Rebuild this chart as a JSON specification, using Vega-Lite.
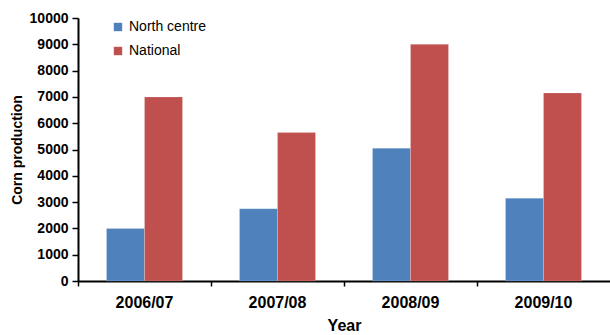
{
  "$schema": "https://vega.github.io/schema/vega-lite/v6.json",
  "autosize": "none",
  "width": 532,
  "height": 263,
  "padding": {"left": 78, "top": 18, "right": 0, "bottom": 54},
  "background": "white",
  "config": {
    "view": {"stroke": null},
    "font": "Liberation Sans"
  },
  "data": {
    "values": [
      {"Year": "2006/07", "Series": "North centre", "Value": 2000},
      {"Year": "2006/07", "Series": "National", "Value": 7000},
      {"Year": "2007/08", "Series": "North centre", "Value": 2750},
      {"Year": "2007/08", "Series": "National", "Value": 5650},
      {"Year": "2008/09", "Series": "North centre", "Value": 5050},
      {"Year": "2008/09", "Series": "National", "Value": 9000},
      {"Year": "2009/10", "Series": "North centre", "Value": 3150},
      {"Year": "2009/10", "Series": "National", "Value": 7150}
    ]
  },
  "mark": {"type": "bar", "stroke": "white", "strokeOpacity": 0.4, "strokeWidth": 0.5},
  "encoding": {
    "x": {
      "field": "Year", "type": "nominal", "sort": null,
      "scale": {"paddingInner": 0, "paddingOuter": 0},
      "axis": {
        "title": "Year", "titleFontSize": 16, "titleFontWeight": "bold", "titleColor": "black",
        "titlePadding": 7,
        "labelAngle": 0, "labelFontSize": 16, "labelFontWeight": "bold", "labelColor": "black",
        "labelPadding": 8,
        "bandPosition": 0,
        "domainColor": "black", "domainWidth": 2,
        "tickColor": "black", "tickWidth": 1.5, "tickSize": 5
      }
    },
    "xOffset": {
      "field": "Series", "type": "nominal",
      "sort": ["North centre", "National"],
      "scale": {"paddingInner": 0, "paddingOuter": 0.75}
    },
    "y": {
      "field": "Value", "type": "quantitative",
      "scale": {"domain": [0, 10000], "nice": false},
      "axis": {
        "title": "Corn production", "titleFontSize": 14, "titleFontWeight": "bold", "titleColor": "black",
        "titlePadding": 5,
        "values": [0, 1000, 2000, 3000, 4000, 5000, 6000, 7000, 8000, 9000, 10000],
        "format": "d",
        "grid": false,
        "labelFontSize": 14, "labelFontWeight": "bold", "labelColor": "black",
        "labelPadding": 4,
        "domainColor": "black", "domainWidth": 2,
        "tickColor": "black", "tickWidth": 1.5, "tickSize": 6
      }
    },
    "color": {
      "field": "Series", "type": "nominal",
      "sort": ["North centre", "National"],
      "scale": {"domain": ["North centre", "National"], "range": ["#4F81BD", "#C0504D"]},
      "legend": {
        "title": null, "orient": "none", "legendX": 33, "legendY": 2,
        "symbolType": "square", "symbolSize": 70, "symbolStrokeWidth": 0,
        "labelFontSize": 14, "labelColor": "black", "rowPadding": 10,
        "labelOffset": 4
      }
    }
  }
}
